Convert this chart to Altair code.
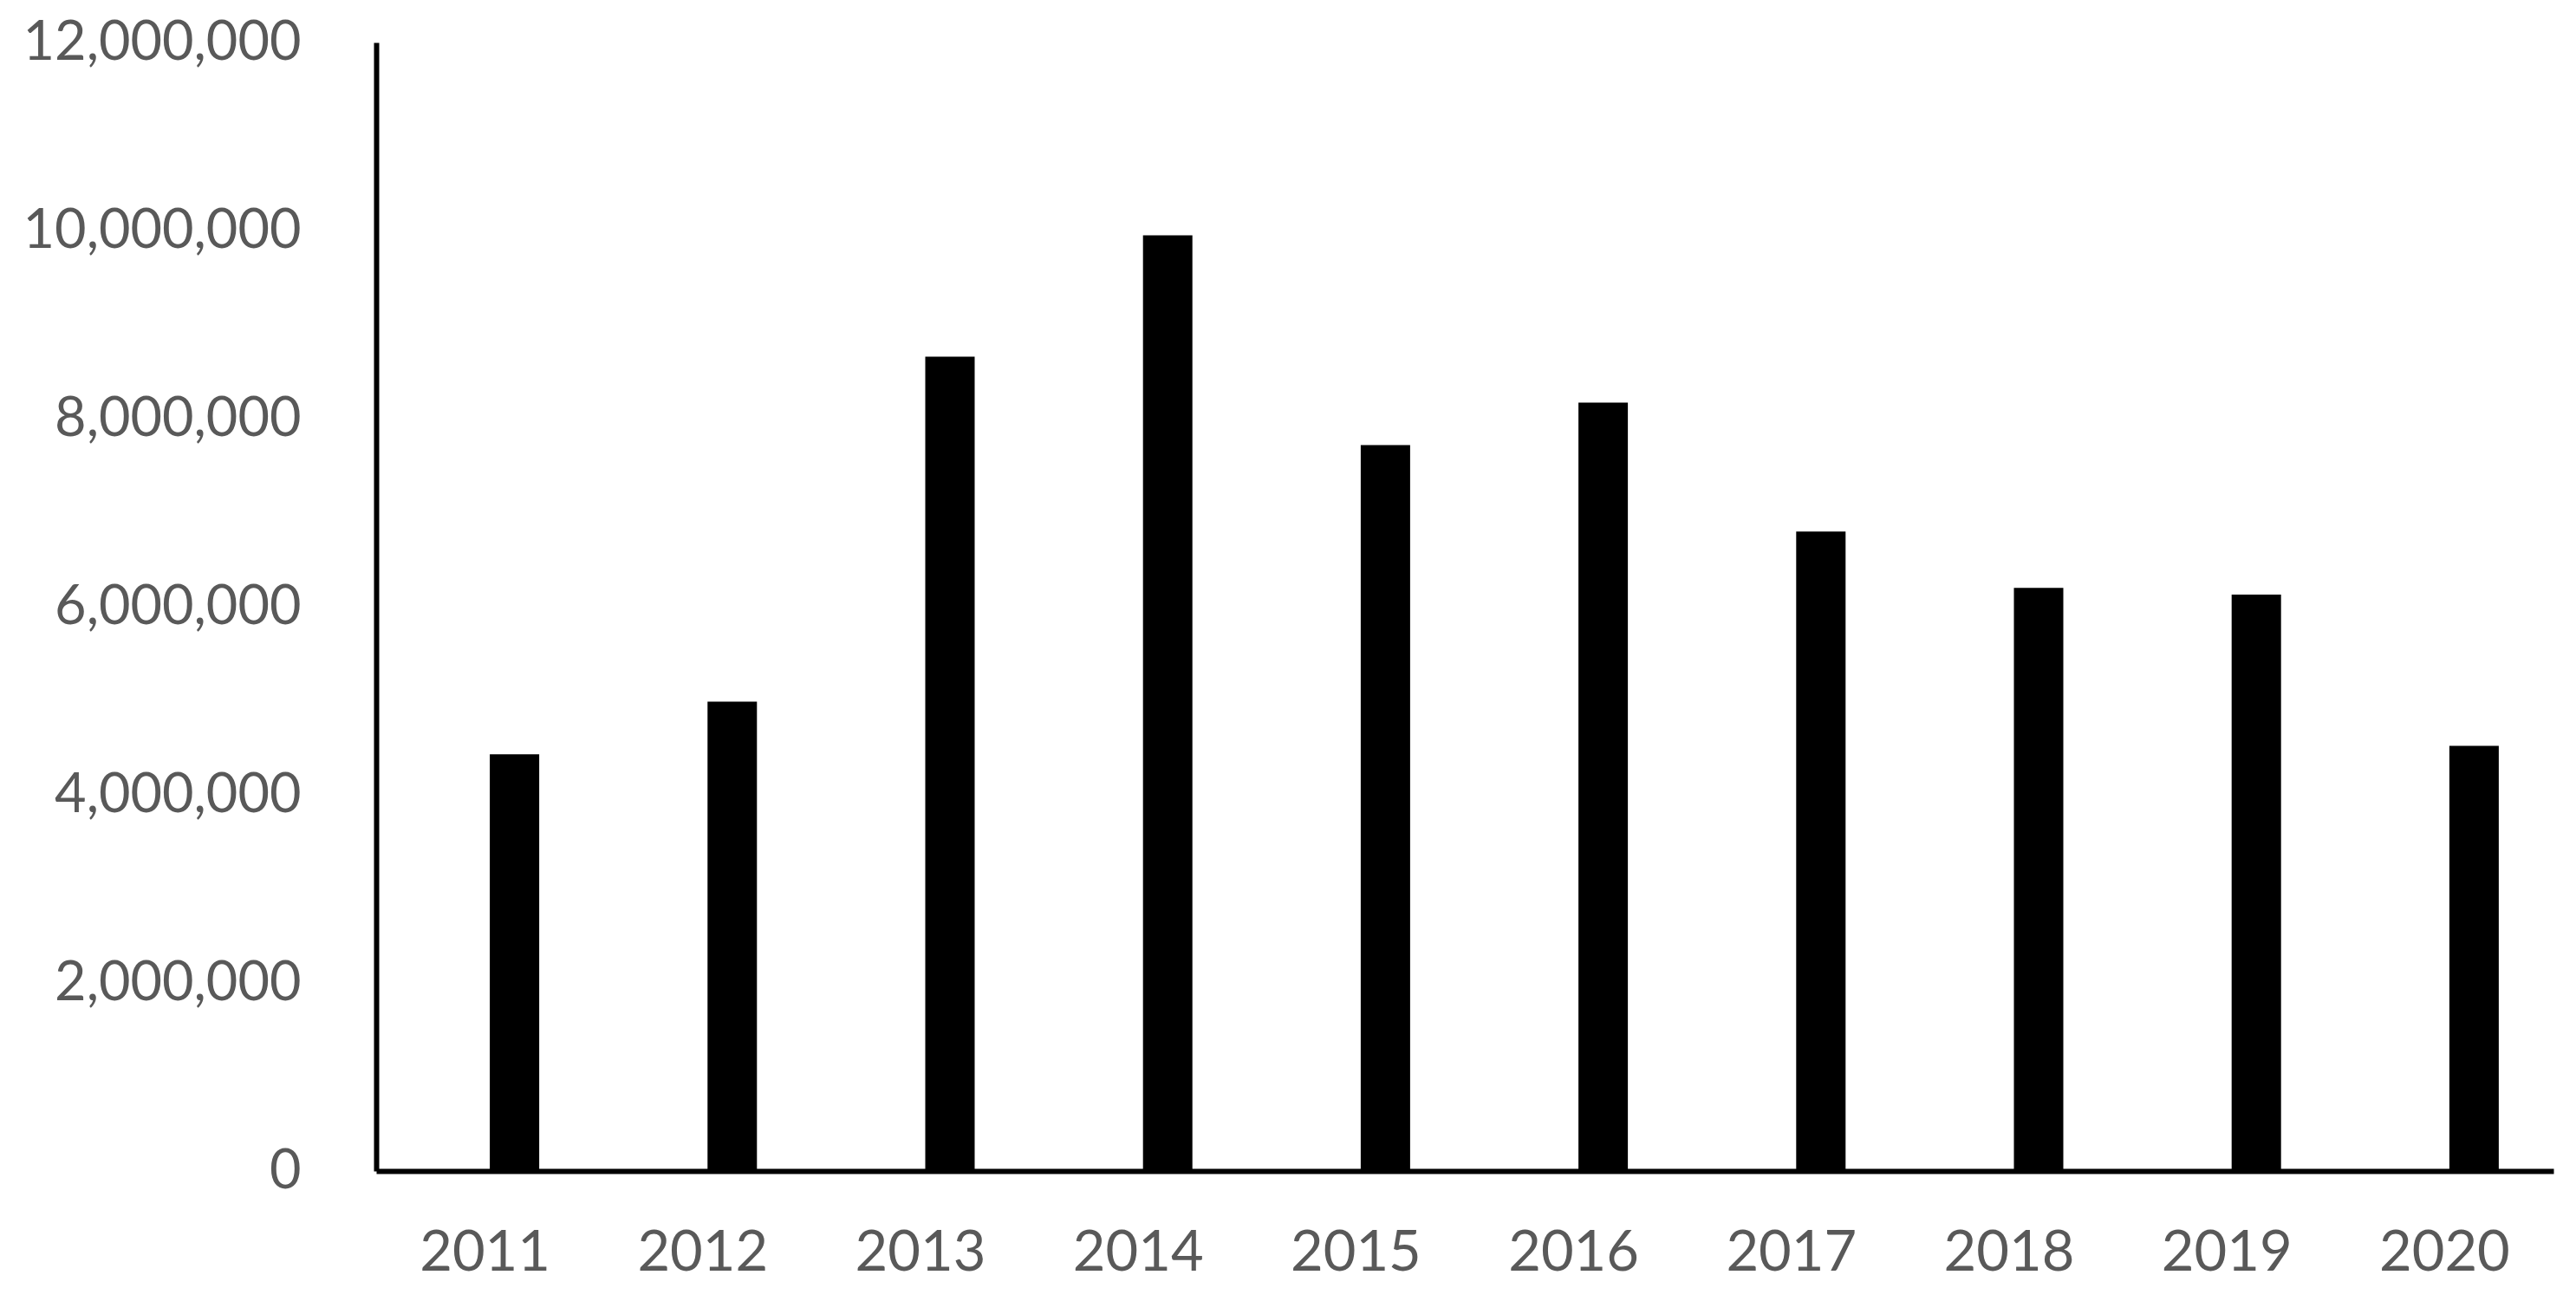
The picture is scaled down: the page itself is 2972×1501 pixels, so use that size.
import altair as alt
import pandas as pd

years = ["2011", "2012", "2013", "2014", "2015", "2016", "2017", "2018", "2019", "2020"]
values = [4430000, 4990000, 8660000, 9950000, 7720000, 8170000, 6800000, 6200000, 6130000, 4520000]
y_ticks = [0, 2000000, 4000000, 6000000, 8000000, 10000000, 12000000]

df = pd.DataFrame({"year": years, "value": values})

chart = alt.Chart(df).mark_bar(color="black", width=57, xOffset=34).encode(
    x=alt.X("year:N", sort=years, title=None,
            scale=alt.Scale(paddingInner=0, paddingOuter=0),
            axis=alt.Axis(labelAngle=0, ticks=False, domainColor="black", domainWidth=6,
                          labelFont="Lato", labelFontSize=65, labelColor="#595959",
                          labelPadding=63, labelLimit=0, grid=False)),
    y=alt.Y("value:Q", title=None,
            scale=alt.Scale(domain=[0, 12000000], nice=False),
            axis=alt.Axis(values=y_ticks, format=",d", ticks=False, grid=False,
                          domainColor="black", domainWidth=6, labelLimit=0,
                          labelFont="Lato", labelFontSize=63, labelColor="#595959",
                          labelPadding=87)),
).properties(
    width=2512, height=1302,
    autosize=alt.AutoSizeParams(type="none"),
    padding={"left": 426, "top": 41, "right": 10, "bottom": 140},
).configure_view(stroke=None)

chart.save("out.html", embed_options={"renderer": "svg", "actions": False})
